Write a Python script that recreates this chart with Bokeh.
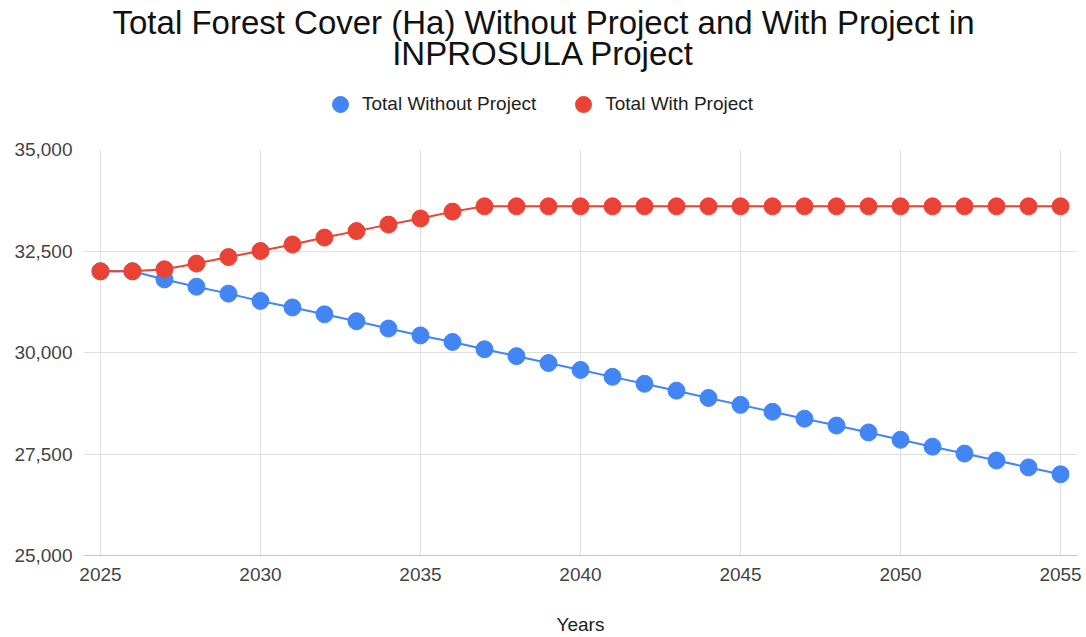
from bokeh.plotting import figure
from bokeh.layouts import column
from bokeh.models import Label, Legend, LegendItem, NumeralTickFormatter, Range1d
from bokeh.embed import file_html
from bokeh.resources import INLINE

years = list(range(2025, 2056))
total_without_project = [32000, 32000, 31800, 31620, 31450, 31270, 31110, 30940, 30770, 30590,
                         30420, 30260, 30080, 29910, 29740, 29570, 29400, 29230, 29060, 28880,
                         28710, 28540, 28370, 28200, 28030, 27850, 27680, 27510, 27340, 27170,
                         27000]
total_with_project = [32000, 32000, 32050, 32190, 32350, 32500, 32660, 32830, 32990, 33150,
                      33300, 33470, 33600, 33600, 33600, 33600, 33600, 33600, 33600, 33600,
                      33600, 33600, 33600, 33600, 33600, 33600, 33600, 33600, 33600, 33600,
                      33600]
x_ticks = [2025, 2030, 2035, 2040, 2045, 2050, 2055]
y_ticks = [25000, 27500, 30000, 32500, 35000]
series_names = ["Total Without Project", "Total With Project"]
title_line1 = "Total Forest Cover (Ha) Without Project and With Project in"
title_line2 = "INPROSULA Project"
x_label = "Years"

BLUE = "#4285F4"
RED = "#EA4335"
FONT = "Liberation Sans"
W, H_HEAD, H_MAIN = 1086, 137, 500
LEFT = 83

# ---- header: title + legend ----
head = figure(width=W, height=H_HEAD, output_backend="svg", toolbar_location=None,
              title_location=None, x_range=Range1d(0, 1), y_range=Range1d(0, 1),
              min_border=0, x_axis_type=None, y_axis_type=None)
head.grid.visible = False
head.outline_line_color = None
head.background_fill_color = "white"
head.border_fill_color = "white"
for txt, ybase in ((title_line1, H_HEAD - 34 + 12), (title_line2, H_HEAD - 65 + 12)):
    head.add_layout(Label(x=543 - LEFT, y=ybase, x_units="screen", y_units="screen", text=txt,
                          text_align="center", text_baseline="alphabetic",
                          text_font=FONT, text_font_size="33px", text_color="#111111"))
# legend keys: one point each, placed outside the visible range
k1 = head.scatter([-5], [-5], color=BLUE)
k2 = head.scatter([-5], [-5], color=RED)
legend = Legend(items=[LegendItem(label=series_names[0], renderers=[k1]),
                       LegendItem(label=series_names[1], renderers=[k2])],
                orientation="horizontal", glyph_width=40, glyph_height=40,
                label_standoff=2, spacing=27, padding=0, margin=0,
                border_line_color=None, background_fill_alpha=0,
                label_text_font=FONT, label_text_font_size="19px",
                label_text_color="#222222", location=(320 - LEFT, H_HEAD - 124))
head.add_layout(legend, "center")

# ---- main chart ----
p = figure(width=W, height=H_MAIN, output_backend="svg", toolbar_location=None,
           title_location=None,
           x_range=Range1d(2024.47, 2055.53), y_range=Range1d(25000, 35000),
           min_border_left=LEFT, min_border_right=9, min_border_top=12, min_border_bottom=80)

p.line(years, total_without_project, color=BLUE, line_width=2)
p.scatter(years, total_without_project, size=17, color=BLUE)
p.line(years, total_with_project, color=RED, line_width=2)
p.scatter(years, total_with_project, size=17, color=RED)

p.outline_line_color = None
p.background_fill_color = "white"
p.border_fill_color = "white"

p.xaxis.ticker = x_ticks
p.yaxis.ticker = y_ticks
p.yaxis.formatter = NumeralTickFormatter(format="0,0")
for ax in (p.xaxis, p.yaxis):
    ax.major_tick_line_color = None
    ax.minor_tick_line_color = None
    ax.major_label_text_font = FONT
    ax.major_label_text_font_size = "19px"
    ax.major_label_text_color = "#444444"
p.xaxis.major_label_standoff = 6
p.yaxis.major_label_standoff = 5
p.yaxis.axis_line_color = None
p.xaxis.axis_line_color = "#c4c4c4"
p.xaxis.axis_label = x_label
p.xaxis.axis_label_text_font = FONT
p.xaxis.axis_label_text_font_size = "19px"
p.xaxis.axis_label_text_font_style = "normal"
p.xaxis.axis_label_text_color = "#222222"
p.xaxis.axis_label_standoff = 30

p.xgrid.ticker = x_ticks
p.ygrid.ticker = y_ticks
p.xgrid.grid_line_color = "#e0e0e0"
p.ygrid.grid_line_color = "#e0e0e0"

layout = column(head, p, spacing=0)
open("out.html", "w").write(file_html(layout, INLINE))
